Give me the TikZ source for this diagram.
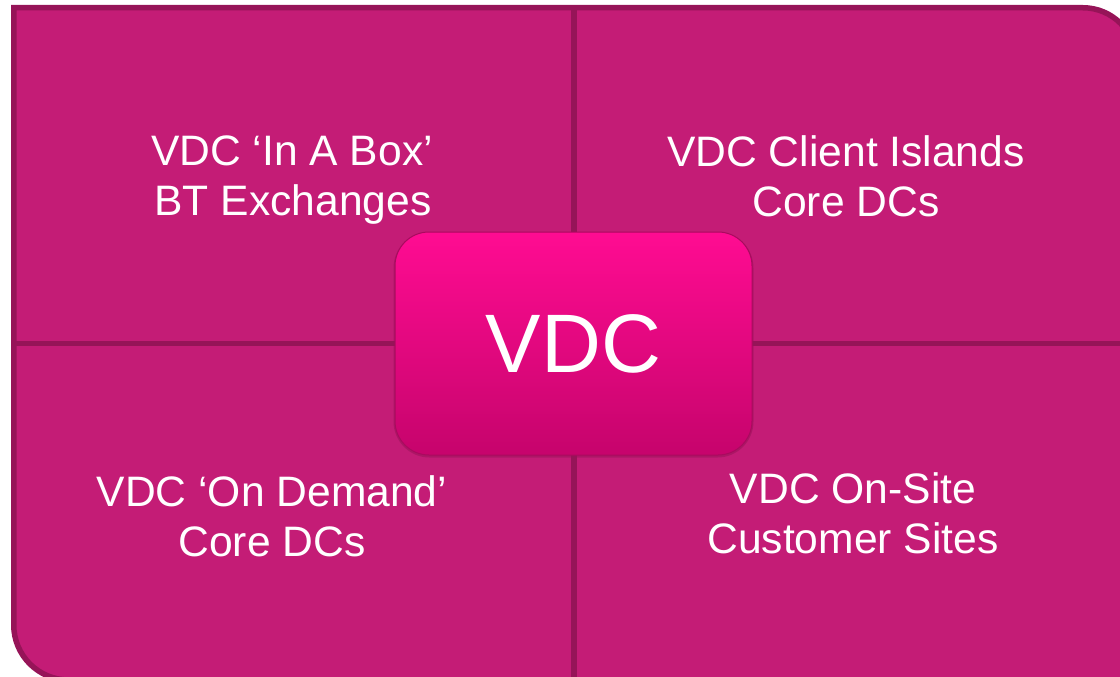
\documentclass[tikz,border=0pt]{standalone}
\usepackage{fontspec}
\setmainfont{Liberation Sans}
\definecolor{panelfill}{RGB}{196,28,118}
\definecolor{paneledge}{RGB}{150,20,88}
\definecolor{hubtop}{RGB}{255,12,146}
\definecolor{hubbottom}{RGB}{198,4,108}
\definecolor{hubrim}{RGB}{170,10,95}
\tikzset{
  label/.style={text=white, font=\fontsize{42.6}{50}\selectfont, anchor=base, inner sep=0pt},
  divider/.style={draw=paneledge, line width=5.5pt},
  hub/.style={rounded corners=34pt, minimum width=357pt, minimum height=223pt,
    top color=hubtop, bottom color=hubbottom, draw=hubrim, line width=1pt,
    text=white, font=\fontsize{83}{90}\selectfont, inner sep=0pt}
}
\begin{document}
\begin{tikzpicture}[x=1pt,y=-1pt]
  \useasboundingbox (0,0) rectangle (1120,677);
  % outer panel: square top-left corner, rounded top-right and bottom-left
  \begin{scope}
    \clip (0,0) rectangle (1120,677);
    \filldraw[fill=panelfill, draw=paneledge, line width=5.5pt]
      (13.75,7.75) -- (1083,7.75) arc[start angle=90, end angle=0, radius=53pt]
      -- (1136,700) -- (1136,680) -- (68.75,680)
      arc[start angle=270, end angle=180, radius=55pt] -- cycle;
    % quadrant dividers
    \coordinate (vtop) at (574,7);
    \coordinate (vbot) at (574,680);
    \coordinate (hleft) at (12,343.5);
    \coordinate (hright) at (1140,343.5);
    \draw[divider] (vtop) -- (vbot);
    \draw[divider] (hleft) -- (hright);
  \end{scope}
  % quadrant labels
  \node[label] (tla) at (292,165) {VDC ‘In A Box’};
  \node[label] (tlb) at (293,215) {BT Exchanges};
  \node[label] (tra) at (846,166) {VDC Client Islands};
  \node[label] (trb) at (846,216) {Core DCs};
  \node[label] (bla) at (272,506) {VDC ‘On Demand’};
  \node[label] (blb) at (272,556) {Core DCs};
  \node[label] (bra) at (853,503) {VDC On-Site};
  \node[label] (brb) at (853,553) {Customer Sites};
  % soft rim round the central box
  \fill[paneledge, opacity=0.5, rounded corners=36pt] (393.5,232) rectangle (753.5,457.5);
  % central hub
  \node[hub] (vdc) at (573.5,343.5) {VDC};
\end{tikzpicture}
\end{document}
